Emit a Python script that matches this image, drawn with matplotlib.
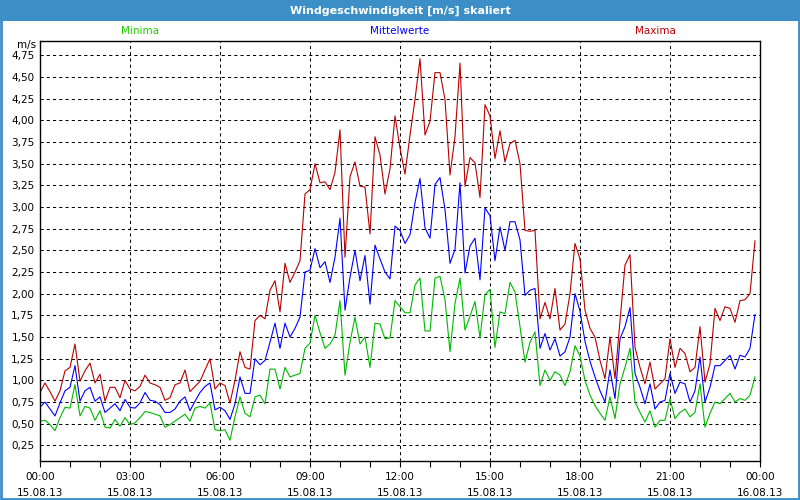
import matplotlib
matplotlib.use("Agg")
import matplotlib.pyplot as plt
from matplotlib.patches import Rectangle
from matplotlib.ticker import MultipleLocator, FuncFormatter

# 10-minute values, 15.08.13 00:00 .. 23:50
minutes = [10 * i for i in range(144)]

maxima = [
    0.86, 0.97, 0.87, 0.76, 0.88, 1.11, 1.15, 1.42, 0.99, 1.11,
    1.20, 0.97, 1.07, 0.76, 0.92, 0.92, 0.80, 1.00, 0.90, 0.88,
    0.93, 1.06, 0.97, 0.95, 0.92, 0.77, 0.80, 0.95, 0.97, 1.12,
    0.87, 0.93, 0.99, 1.12, 1.25, 0.90, 0.97, 0.94, 0.74, 1.00,
    1.33, 1.15, 1.13, 1.69, 1.75, 1.71, 2.04, 2.15, 1.79, 2.35,
    2.13, 2.25, 2.38, 3.15, 3.20, 3.50, 3.28, 3.29, 3.20, 3.40,
    3.89, 2.42, 3.35, 3.52, 3.24, 3.23, 2.69, 3.81, 3.60, 3.15,
    3.44, 4.05, 3.68, 3.38, 3.83, 4.24, 4.71, 3.83, 3.99, 4.55,
    4.55, 4.24, 3.37, 3.81, 4.66, 3.24, 3.57, 3.51, 3.11, 4.18,
    4.05, 3.56, 3.88, 3.52, 3.73, 3.77, 3.50, 2.73, 2.72, 2.73,
    1.71, 1.90, 1.71, 2.06, 1.58, 1.65, 2.00, 2.58, 2.40, 1.81,
    1.60, 1.50, 1.23, 1.02, 1.50, 1.02, 1.69, 2.33, 2.45, 1.38,
    1.15, 0.96, 1.21, 0.90, 0.96, 1.02, 1.48, 1.15, 1.37, 1.31,
    1.10, 1.15, 1.62, 0.98, 1.19, 1.83, 1.69, 1.85, 1.83, 1.67,
    1.92, 1.93, 2.00, 2.61,
]

mittel = [
    0.69, 0.75, 0.67, 0.59, 0.74, 0.88, 0.92, 1.17, 0.76, 0.88,
    0.92, 0.76, 0.81, 0.63, 0.68, 0.73, 0.65, 0.78, 0.69, 0.68,
    0.74, 0.86, 0.77, 0.76, 0.72, 0.63, 0.63, 0.67, 0.76, 0.81,
    0.65, 0.76, 0.86, 0.93, 0.97, 0.66, 0.69, 0.65, 0.55, 0.73,
    1.04, 0.85, 0.85, 1.25, 1.18, 1.23, 1.44, 1.66, 1.37, 1.66,
    1.50, 1.60, 1.73, 2.25, 2.27, 2.52, 2.30, 2.37, 2.13, 2.42,
    2.87, 1.81, 2.19, 2.50, 2.15, 2.44, 1.88, 2.56, 2.40, 2.25,
    2.17, 2.78, 2.73, 2.58, 2.68, 3.05, 3.33, 2.76, 2.64, 3.26,
    3.34, 2.97, 2.35, 2.51, 3.28, 2.24, 2.55, 2.64, 2.16, 2.99,
    2.90, 2.38, 2.77, 2.50, 2.83, 2.83, 2.62, 1.98, 2.04, 2.06,
    1.37, 1.54, 1.35, 1.48, 1.28, 1.33, 1.50, 2.00, 1.80, 1.45,
    1.22, 1.04, 0.88, 0.75, 1.12, 0.79, 1.48, 1.62, 1.84, 1.08,
    0.92, 0.73, 0.96, 0.67, 0.75, 0.77, 1.08, 0.85, 0.98, 0.96,
    0.75, 0.88, 1.27, 0.75, 0.92, 1.17, 1.17, 1.23, 1.29, 1.13,
    1.29, 1.27, 1.37, 1.76,
]

minima = [
    0.53, 0.54, 0.49, 0.42, 0.57, 0.69, 0.68, 0.95, 0.59, 0.70,
    0.68, 0.54, 0.65, 0.46, 0.45, 0.55, 0.47, 0.57, 0.49, 0.51,
    0.57, 0.64, 0.63, 0.61, 0.59, 0.46, 0.49, 0.53, 0.57, 0.61,
    0.53, 0.68, 0.70, 0.68, 0.74, 0.43, 0.42, 0.43, 0.31, 0.58,
    0.81, 0.62, 0.58, 0.81, 0.83, 0.73, 1.13, 1.13, 0.90, 1.15,
    1.04, 1.06, 1.08, 1.37, 1.43, 1.75, 1.55, 1.37, 1.42, 1.52,
    1.92, 1.06, 1.44, 1.73, 1.42, 1.50, 1.15, 1.66, 1.65, 1.48,
    1.49, 1.92, 1.85, 1.78, 1.78, 2.10, 2.18, 1.57, 1.57, 2.18,
    2.20, 1.93, 1.33, 1.89, 2.18, 1.58, 1.74, 1.91, 1.49, 1.99,
    2.05, 1.38, 1.79, 1.77, 2.13, 2.02, 1.62, 1.21, 1.44, 1.56,
    0.94, 1.12, 1.00, 1.10, 1.06, 0.94, 1.10, 1.40, 1.28, 1.00,
    0.83, 0.71, 0.62, 0.54, 0.81, 0.56, 0.96, 1.15, 1.37, 0.75,
    0.63, 0.52, 0.65, 0.46, 0.54, 0.54, 0.79, 0.56, 0.63, 0.67,
    0.58, 0.63, 0.96, 0.46, 0.62, 0.75, 0.73, 0.79, 0.85, 0.75,
    0.79, 0.77, 0.83, 1.04,
]

tick_labels = [
    "00:00\n15.08.13", "03:00\n15.08.13", "06:00\n15.08.13",
    "09:00\n15.08.13", "12:00\n15.08.13", "15:00\n15.08.13",
    "18:00\n15.08.13", "21:00\n15.08.13", "00:00\n16.08.13",
]

FRAME = "#3c8fc6"
RED = "#b80000"
BLUE = "#0000ff"
GREEN = "#00b800"

fig = plt.figure(figsize=(8, 5), dpi=100)
fig.patch.set_facecolor("white")

# title bar + blue frame
fig.patches.append(Rectangle((0, 0.958), 1, 0.042, transform=fig.transFigure,
                             facecolor=FRAME, edgecolor="none", zorder=0))
fig.patches.append(Rectangle((0.001, 0.002), 0.998, 0.997, transform=fig.transFigure,
                             facecolor="none", edgecolor=FRAME, lw=2, zorder=5))
fig.text(0.5, 0.979, "Windgeschwindigkeit [m/s] skaliert", color="white",
         fontsize=8, fontweight="bold", ha="center", va="center")

ax = fig.add_axes([0.05, 0.078, 0.90, 0.840])
ax.set_facecolor("white")

ax.plot(minutes, minima, color=GREEN, lw=0.8)
ax.plot(minutes, mittel, color=BLUE, lw=0.8)
ax.plot(minutes, maxima, color=RED, lw=0.8)

ax.set_xlim(0, 1440)
ax.set_ylim(0.07, 4.915)

# grid
for v in [0.25 * k for k in range(1, 20)]:
    ax.axhline(v, color="black", lw=0.75, ls=(0, (3, 3)), zorder=0)
for m in range(180, 1440, 180):
    ax.axvline(m, color="black", lw=0.75, ls=(0, (3, 3)), zorder=0)

ax.yaxis.set_major_locator(MultipleLocator(0.25))
ax.yaxis.set_major_formatter(FuncFormatter(lambda v, p: f"{v:.2f}".replace(".", ",")))
ax.tick_params(axis="y", length=0, labelsize=7.5, pad=4)

ax.set_xticks(range(0, 1441, 180))
ax.set_xticklabels(tick_labels, linespacing=1.75)
ax.xaxis.set_minor_locator(MultipleLocator(60))
ax.tick_params(axis="x", which="both", direction="out", length=4, width=0.8,
               labelsize=7.5, pad=4)

for s in ax.spines.values():
    s.set_color("black")
    s.set_linewidth(1.0)

# series labels above the plot
fig.text(140 / 800, 1 - 31 / 500, "Minima", color="#22cc00", fontsize=7.5,
         ha="center", va="center")
fig.text(400 / 800, 1 - 31 / 500, "Mittelwerte", color=BLUE, fontsize=7.5,
         ha="center", va="center")
fig.text(655 / 800, 1 - 31 / 500, "Maxima", color=RED, fontsize=7.5,
         ha="center", va="center")
fig.text(36 / 800, 1 - 45 / 500, "m/s", color="black", fontsize=7.5,
         ha="right", va="center")

fig.savefig("out.png", dpi=100, facecolor=fig.get_facecolor())
